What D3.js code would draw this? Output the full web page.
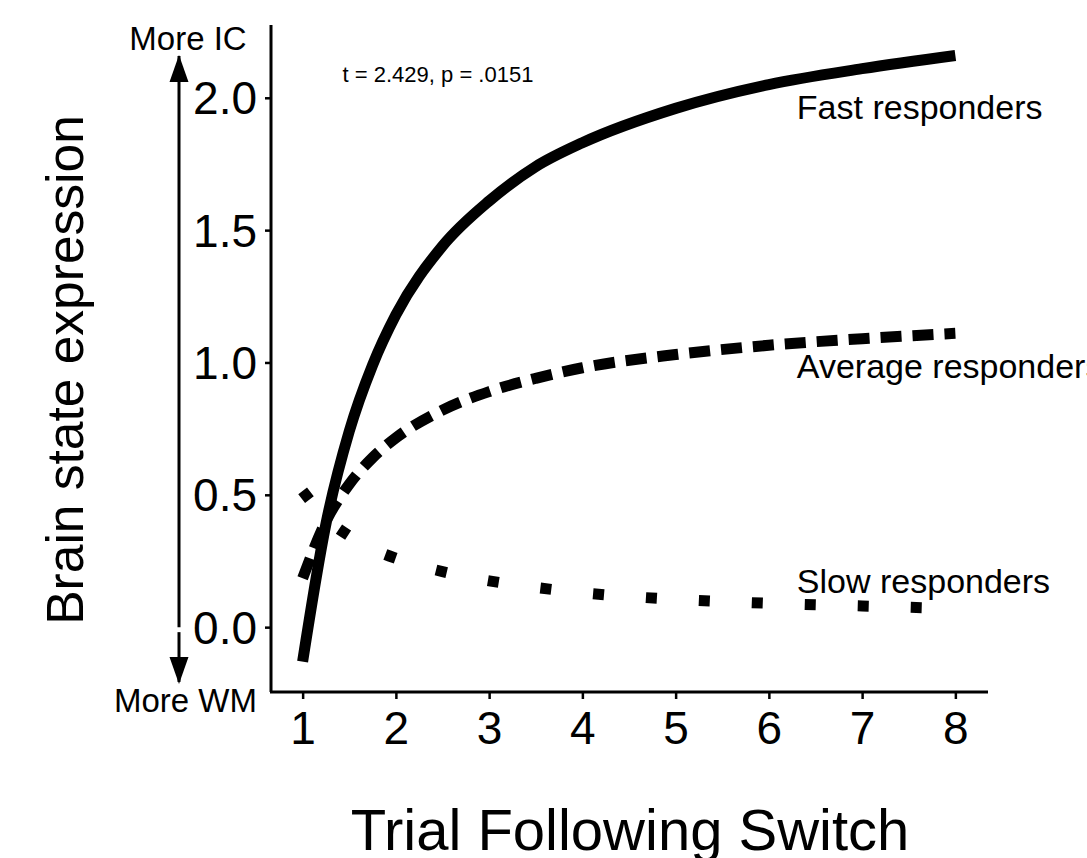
<!DOCTYPE html>
<html>
<head>
<meta charset="utf-8">
<script src="https://cdn.jsdelivr.net/npm/d3@7"></script>
<style>
  html, body { margin: 0; padding: 0; background: #fff; }
  svg { display: block; }
  text { font-family: "Liberation Sans", Arial, Helvetica, sans-serif; fill: #000; }
</style>
</head>
<body>
<svg id="chart" width="1087" height="858"></svg>
<script>
// ---- data ----
const trials = [1, 1.25, 1.5, 1.75, 2, 2.5, 3, 3.5, 4, 5, 6, 7, 8];
const fastValues    = [-0.13, 0.39, 0.74, 0.99, 1.18, 1.44, 1.61, 1.74, 1.83, 1.96, 2.05, 2.11, 2.16];
const averageValues = [0.185, 0.40, 0.54, 0.64, 0.715, 0.82, 0.89, 0.94, 0.98, 1.03, 1.065, 1.09, 1.11];
const slowValues    = [0.515, 0.41, 0.345, 0.295, 0.26, 0.21, 0.175, 0.15, 0.13, 0.105, 0.09, 0.08, 0.07];
const seriesNames = ["Fast responders", "Average responders", "Slow responders"];
const xTicks = [1, 2, 3, 4, 5, 6, 7, 8];
const yTicks = [0, 0.5, 1, 1.5, 2];
const labelX = [6.3, 6.3, 6.3];
const labelY = [1.92, 0.94, 0.128];
const statText = "t = 2.429, p = .0151";

// ---- layout ----
const svg = d3.select("#chart");
const x = d3.scaleLinear().domain([0.65, 8.35]).range([270, 988]);
const y = d3.scaleLinear().domain([-0.245, 2.275]).range([692, 25]);

// axes
const yAxis = svg.append("g").attr("transform", "translate(271,0)")
  .call(d3.axisLeft(y).tickValues(yTicks).tickFormat(d3.format(".1f")).tickSizeOuter(0).tickSize(6).tickPadding(8));
const xAxis = svg.append("g").attr("transform", "translate(0,692)")
  .call(d3.axisBottom(x).tickValues(xTicks).tickFormat(d3.format("d")).tickSizeOuter(0).tickSize(7).tickPadding(12));
[yAxis, xAxis].forEach(g => {
  g.select(".domain").attr("stroke", "#000").attr("stroke-width", 3);
  g.selectAll(".tick line").attr("stroke", "#000").attr("stroke-width", 2.5);
  g.selectAll(".tick text").attr("font-size", 46).attr("fill", "#000")
    .style("font-family", "'Liberation Sans', Arial, sans-serif");
});
xAxis.select(".domain").attr("d", `M${x.range()[0]},0H${x.range()[1]}`);
yAxis.select(".domain").attr("d", `M0,${y.range()[0]}V${y.range()[1]}`);
yAxis.selectAll(".tick text").attr("dy", "0.35em");

// curves
const series = [
  { name: seriesNames[0], values: fastValues, dash: null },
  { name: seriesNames[1], values: averageValues, dash: "21,11" },
  { name: seriesNames[2], values: slowValues, dash: "11,42" }
];
const line = d3.line().x((d, i) => x(trials[i])).y(d => y(d)).curve(d3.curveMonotoneX);
series.forEach(s => {
  svg.append("path")
    .attr("d", line(s.values))
    .attr("fill", "none")
    .attr("stroke", "#000")
    .attr("stroke-width", 11)
    .attr("stroke-linecap", "butt")
    .attr("stroke-dasharray", s.dash);
});

// series labels
series.forEach((s, i) => {
  svg.append("text")
    .attr("x", x(labelX[i])).attr("y", y(labelY[i]))
    .attr("font-size", 34)
    .text(s.name);
});

// stat annotation
svg.append("text").attr("x", 438).attr("y", 82).attr("text-anchor", "middle")
  .attr("font-size", 22).text(statText);

// left direction arrow
const defs = svg.append("defs");
defs.append("marker").attr("id", "ah").attr("viewBox", "0 0 19 27")
  .attr("refX", 9.5).attr("refY", 0).attr("markerWidth", 19).attr("markerHeight", 27)
  .attr("markerUnits", "userSpaceOnUse").attr("orient", "auto-start-reverse")
  .append("path").attr("d", "M0,27L9.5,0L19,27Z").attr("fill", "#000");
// arrow up
svg.append("line").attr("x1", 179).attr("x2", 179)
  .attr("y1", y(0)).attr("y2", 56)
  .attr("stroke", "#000").attr("stroke-width", 3);
svg.append("path").attr("d", "M169.5,82L179,55L188.5,82Z").attr("fill", "#000");
// arrow down
svg.append("line").attr("x1", 179).attr("x2", 179)
  .attr("y1", y(0) + 5).attr("y2", 682)
  .attr("stroke", "#000").attr("stroke-width", 3);
svg.append("path").attr("d", "M169.5,657L179,684L188.5,657Z").attr("fill", "#000");

svg.append("text").attr("x", 188).attr("y", 50).attr("text-anchor", "middle")
  .attr("font-size", 33).text("More IC");
svg.append("text").attr("x", 185.5).attr("y", 712).attr("text-anchor", "middle")
  .attr("font-size", 33).text("More WM");

// axis titles
svg.append("text").attr("transform", "translate(83,370) rotate(-90)")
  .attr("text-anchor", "middle").attr("font-size", 51.5).text("Brain state expression");
svg.append("text").attr("x", 630).attr("y", 850).attr("text-anchor", "middle")
  .attr("font-size", 58).text("Trial Following Switch");
</script>
</body>
</html>
